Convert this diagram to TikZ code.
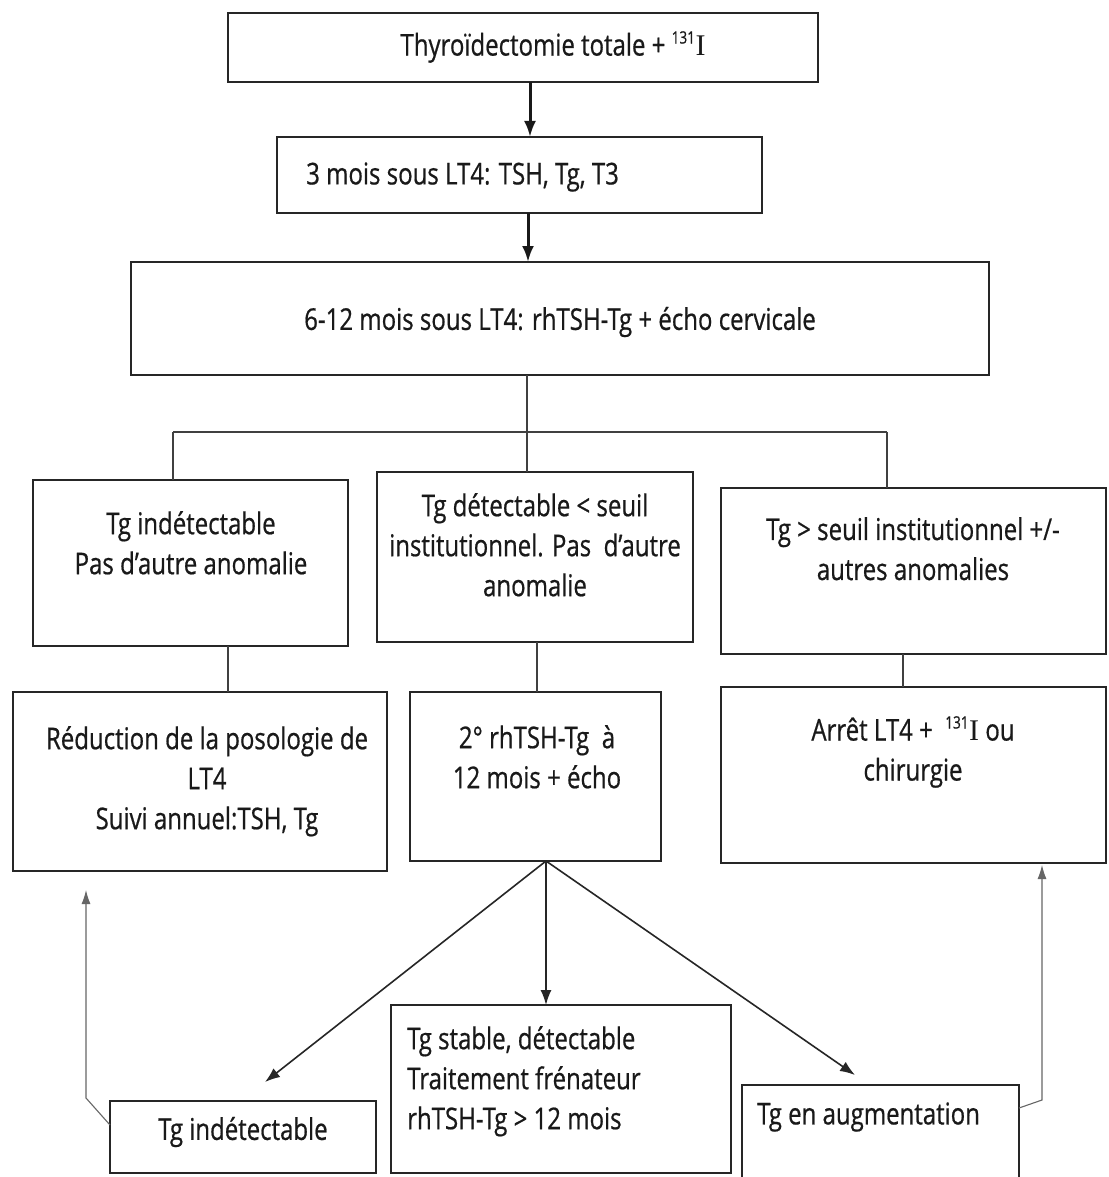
\documentclass[tikz,border=0pt]{standalone}
\usepackage{fontspec}
\setmainfont{Open Sans}[FakeStretch=0.8,FakeBold=0.6]
\newfontfamily\serifI{Liberation Serif}
\usetikzlibrary{arrows.meta}
\tikzset{
  box/.style={draw=black!85, line width=2pt, rectangle, inner sep=0pt, outer sep=0pt, anchor=north west},
  txt/.style={inner sep=0pt, align=center, text=black!90, font=\fontsize{30}{40}\selectfont},
  ltxt/.style={txt, align=left, anchor=west},
  bigarrow/.style={line width=3pt, draw=black!90, -{Latex[length=16pt,width=12pt]}},
  conn/.style={line width=1.2pt, draw=black!75},
  arr/.style={line width=1.6pt, draw=black!85, -{Latex[length=15pt,width=11pt]}},
  feed/.style={line width=1.1pt, draw=black!60, -{Latex[length=14pt,width=9pt]}}
}
\newcommand{\iso}{\raisebox{3pt}{\textsuperscript{\fontsize{17}{17}\selectfont 131}}{\serifI I}}
\begin{document}
\begin{tikzpicture}[x=1pt,y=-1pt]
\useasboundingbox (0,0) rectangle (1108,1177);
\clip (0,0) rectangle (1108,1177);
\fill[white] (0,0) rectangle (1108,1177);
% boxes
\node[box, minimum width=590pt, minimum height=69pt] (b1) at (228,13) {};
\node[box, minimum width=485pt, minimum height=76pt] (b2) at (277,137) {};
\node[box, minimum width=858pt, minimum height=113pt] (b3) at (131,262) {};
\node[box, minimum width=315pt, minimum height=166pt] (b4) at (33,480) {};
\node[box, minimum width=316pt, minimum height=170pt] (b5) at (377,472) {};
\node[box, minimum width=385pt, minimum height=166pt] (b6) at (721,488) {};
\node[box, minimum width=374pt, minimum height=179pt] (b7) at (13,692) {};
\node[box, minimum width=251pt, minimum height=169pt] (b8) at (410,692) {};
\node[box, minimum width=385pt, minimum height=176pt] (b9) at (721,687) {};
\node[box, minimum width=266pt, minimum height=72pt] (b10) at (110,1101) {};
\node[box, minimum width=340pt, minimum height=168pt] (b11) at (391,1005) {};
\node[box, minimum width=277pt, minimum height=110pt] (b12) at (742,1085) {};
% texts
\node[txt] (t1) at (553,47) {Thyroïdectomie totale + \iso};
\node[ltxt] (t2) at (306,177) {3 mois sous LT4: TSH, Tg, T3};
\node[txt] (t3) at (560,322) {6-12 mois sous LT4: rhTSH-Tg + écho cervicale};
\node[txt, anchor=north] (t4) at (191,511) {Tg indétectable\\Pas d'autre anomalie};
\node[txt, anchor=north] (t5) at (535,493) {Tg détectable < seuil\\institutionnel. Pas\ \ d'autre\\anomalie};
\node[txt, anchor=north] (t6) at (913,517) {Tg > seuil institutionnel +/-\\autres anomalies};
\node[txt, anchor=north] (t7) at (207,726) {Réduction de la posologie de\\LT4\\Suivi annuel:TSH, Tg};
\node[txt, anchor=north] (t8) at (537,725) {2° rhTSH-Tg\ \ à\\12 mois + écho};
\node[txt, anchor=north] (t9) at (913,716) {Arrêt LT4 + \ \iso\ ou\\chirurgie};
\node[txt] (t10) at (243,1132) {Tg indétectable};
\node[txt, align=left, anchor=north west] (t11) at (407,1026) {Tg stable, détectable\\Traitement frénateur\\rhTSH-Tg > 12 mois};
\node[ltxt] (t12) at (757,1117) {Tg en augmentation};
% column coordinates
\coordinate (cA) at (530,0);
\coordinate (cB) at (528,0);
\coordinate (cC) at (527,0);
\coordinate (hL) at (173,432);
\coordinate (hR) at (887,432);
\coordinate (c4) at (228,0);
\coordinate (c5) at (537,0);
\coordinate (c6) at (903,0);
\coordinate (src) at (546,861);
\coordinate (tipL) at (265,1082);
\coordinate (tipR) at (855,1075);
\coordinate (fl1) at (110,1125);
\coordinate (fl2) at (86,1098);
\coordinate (fl3) at (86,890);
\coordinate (fr1) at (1019,1108);
\coordinate (fr2) at (1042,1100);
\coordinate (fr3) at (1042,865);
% connectors
\draw[bigarrow] (b1.south -| cA) -- (b2.north -| cA);
\draw[bigarrow] (b2.south -| cB) -- (b3.north -| cB);
\draw[conn] (b3.south -| cC) -- (b5.north -| cC);
\draw[conn] (hL) -- (hR);
\draw[conn] (b4.north -| hL) -- (hL);
\draw[conn] (b6.north -| hR) -- (hR);
\draw[conn] (b4.south -| c4) -- (b7.north -| c4);
\draw[conn] (b5.south -| c5) -- (b8.north -| c5);
\draw[conn] (b6.south -| c6) -- (b9.north -| c6);
\draw[arr] (b8.south -| src) -- (tipL);
\draw[arr] (b8.south -| src) -- (b11.north -| src);
\draw[arr] (b8.south -| src) -- (tipR);
\draw[feed] (b10.west |- fl1) -- (fl2) -- (fl3);
\draw[feed] (b12.east |- fr1) -- (fr2) -- (fr3);
\end{tikzpicture}
\end{document}
